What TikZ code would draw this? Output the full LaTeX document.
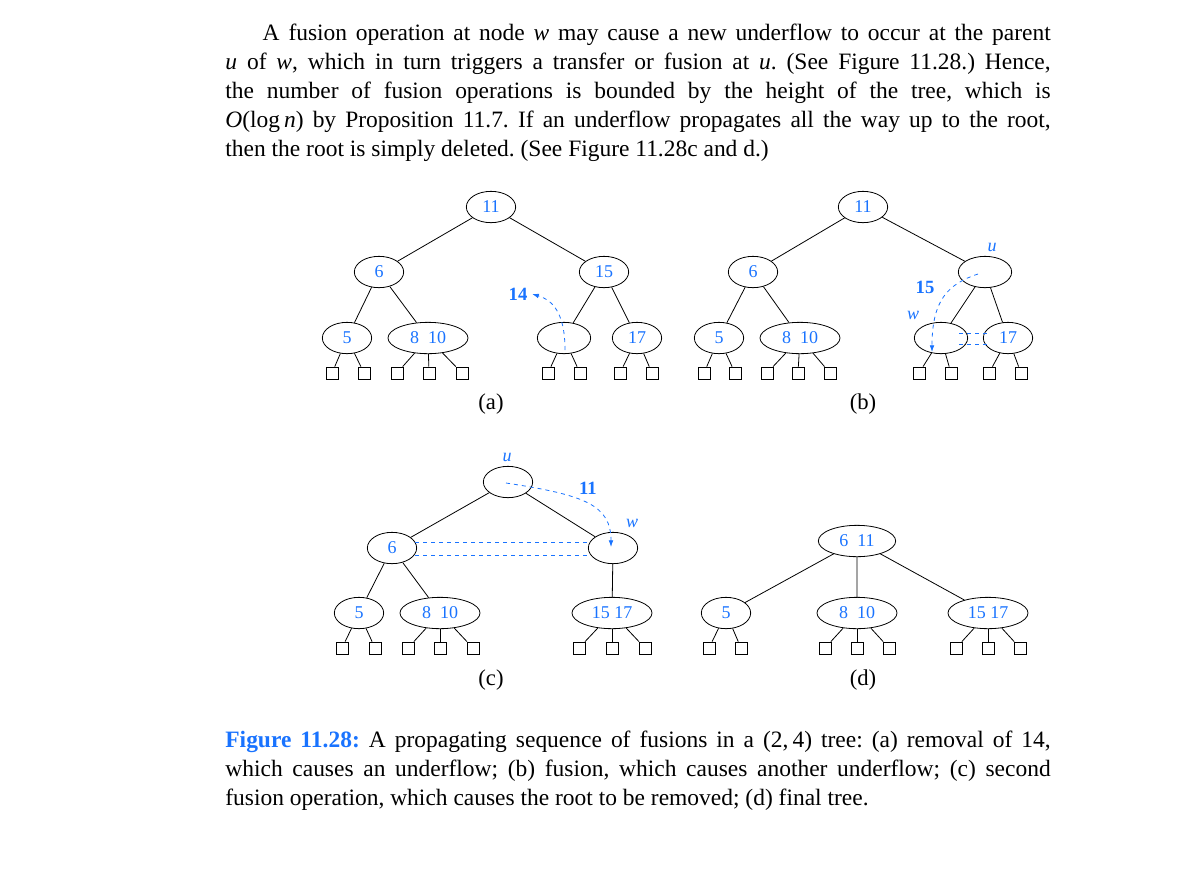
\documentclass[tikz,border=0pt]{standalone}
\usepackage{fontspec}
\setmainfont{Liberation Serif}
\usetikzlibrary{shapes.geometric,arrows.meta}
\definecolor{kb}{RGB}{25,115,255}
\begin{document}
\frenchspacing
\begin{tikzpicture}[x=0.75pt,y=-0.75pt,line width=0.6pt,
 key/.style={ellipse,draw,inner sep=0,minimum width=37pt,minimum height=23.5pt,font=\fontsize{13.5}{14}\selectfont,text=kb},
 wkey/.style={key,minimum width=60pt},
 ekey/.style={key,minimum width=40pt},
 leaf/.style={draw,inner sep=0,minimum size=9pt},
 lab/.style={font=\fontsize{13.5}{14}\selectfont\itshape,text=kb},
 blab/.style={font=\fontsize{14}{14}\selectfont\bfseries,text=kb},
 mv/.style={draw=kb,dashed,-{Latex[length=5pt,width=3.5pt]}},
 dl/.style={draw=kb,dashed},
 txt/.style={anchor=north west,inner sep=0,text width=619pt,align=justify,font=\fontsize{17.6}{21.75}\selectfont},
 sub/.style={font=\fontsize{17}{18}\selectfont}]
\useasboundingbox (0,0) rectangle (1192,879);
\node[txt] (para) at (225,24) {\hspace*{28pt}A fusion operation at node \textit{w} may cause a new underflow to occur at the parent\linebreak \textit{u} of \textit{w}, which in turn triggers a transfer or fusion at \textit{u}. (See Figure 11.28.) Hence,\linebreak the number of fusion operations is bounded by the height of the tree, which is\linebreak \textit{O}(log\,\textit{n}) by Proposition 11.7. If an underflow propagates all the way up to the root,\linebreak then the root is simply deleted. (See Figure 11.28c and d.)};
% (a)
\node[key] (a11) at (491,207) {11};
\node[key] (a6) at (379,272) {6};
\node[key] (a15) at (604,272) {15};
\node[key] (a5) at (347,338) {5};
\node[wkey] (a810) at (428,338) {8\ \ 10};
\node[ekey] (ae) at (564,338) {};
\node[key] (a17) at (637,338) {17};
\draw (a11)--(a6) (a11)--(a15) (a6)--(a5) (a6)--(a810) (a15)--(ae) (a15)--(a17);
\foreach \n/\x/\p in {1/332/a5,2/364/a5,3/397/a810,4/429/a810,5/462/a810,6/548/ae,7/580/ae,8/620/a17,9/652/a17}
 {\node[leaf] (al\n) at (\x,373) {}; \draw (\p) -- (al\n);}
\node[blab] (a14) at (518,294) {14};
\coordinate (as) at (565,350);
\draw[mv] (as) .. controls (565,312) and (552,300) .. (a14.east);
\node[sub] (la) at (491,404) {(a)};
% (b)
\node[key] (b11) at (863,207) {11};
\node[key] (b6) at (753,272) {6};
\node[ekey] (bu) at (985,272) {};
\node[key] (b5) at (719,338) {5};
\node[wkey] (b810) at (800,338) {8\ \ 10};
\node[ekey] (bw) at (941,338) {};
\node[key] (b17) at (1008,338) {17};
\draw (b11)--(b6) (b11)--(bu) (b6)--(b5) (b6)--(b810) (bu)--(bw) (bu)--(b17);
\foreach \n/\x/\p in {1/704/b5,2/735/b5,3/767/b810,4/798/b810,5/830/b810,6/919/bw,7/951/bw,8/989/b17,9/1021/b17}
 {\node[leaf] (bl\n) at (\x,373) {}; \draw (\p) -- (bl\n);}
\draw[dl] (959,333) -- (988,333) (959,344) -- (988,344);
\node[lab] (bul) at (992,247) {u};
\node[blab] (b15) at (925,287) {15};
\node[lab] (bwl) at (913,315) {w};
\coordinate (bs) at (978,274);
\coordinate (be) at (932,352);
\draw[mv] (bs) .. controls (948,284) and (932,300) .. (be);
\node[sub] (lb) at (863,404) {(b)};
% (c)
\node[key] (cu) at (508,482) {};
\node[key] (c6) at (392,548) {6};
\node[key] (cw) at (613,548) {};
\node[key] (c5) at (359,613) {5};
\node[wkey] (c810) at (440,613) {8\ \ 10};
\node[wkey] (c1517) at (612,613) {15\ 17};
\draw (cu)--(c6) (cu)--(cw) (c6)--(c5) (c6)--(c810) (cw)--(c1517);
\foreach \n/\x/\p in {1/342/c5,2/375/c5,3/408/c810,4/440/c810,5/473/c810,6/579/c1517,7/612/c1517,8/645/c1517}
 {\node[leaf] (cl\n) at (\x,648) {}; \draw (\p) -- (cl\n);}
\draw[dl] (415,542) -- (590,542) (415,555) -- (590,555);
\node[lab] (cul) at (507,457) {u};
\node[blab] (c11) at (588,488) {11};
\node[lab] (cwl) at (632,523) {w};
\coordinate (cs) at (506,483);
\coordinate (ce) at (611,547);
\draw[mv] (cs) .. controls (585,495) and (611,505) .. (ce);
\node[sub] (lc) at (491,680) {(c)};
% (d)
\node[wkey,minimum width=58pt] (d611) at (857,541) {6\ \ 11};
\node[key] (d5) at (726,613) {5};
\node[wkey] (d810) at (857,613) {8\ \ 10};
\node[wkey] (d1517) at (988,613) {15\ 17};
\draw (d611)--(d5) (d611)--(d810) (d611)--(d1517);
\foreach \n/\x/\p in {1/709/d5,2/741/d5,3/825/d810,4/857/d810,5/889/d810,6/956/d1517,7/988/d1517,8/1020/d1517}
 {\node[leaf] (dl\n) at (\x,648) {}; \draw (\p) -- (dl\n);}
\node[sub] (ld) at (863,680) {(d)};
% caption
\node[txt] (cap) at (225,731) {\textcolor{kb}{\textbf{Figure 11.28:}} A propagating sequence of fusions in a (2,\,4) tree: (a) removal of 14,\linebreak which causes an underflow; (b) fusion, which causes another underflow; (c) second\linebreak fusion operation, which causes the root to be removed; (d) final tree.\hfill\null};
\end{tikzpicture}
\end{document}
